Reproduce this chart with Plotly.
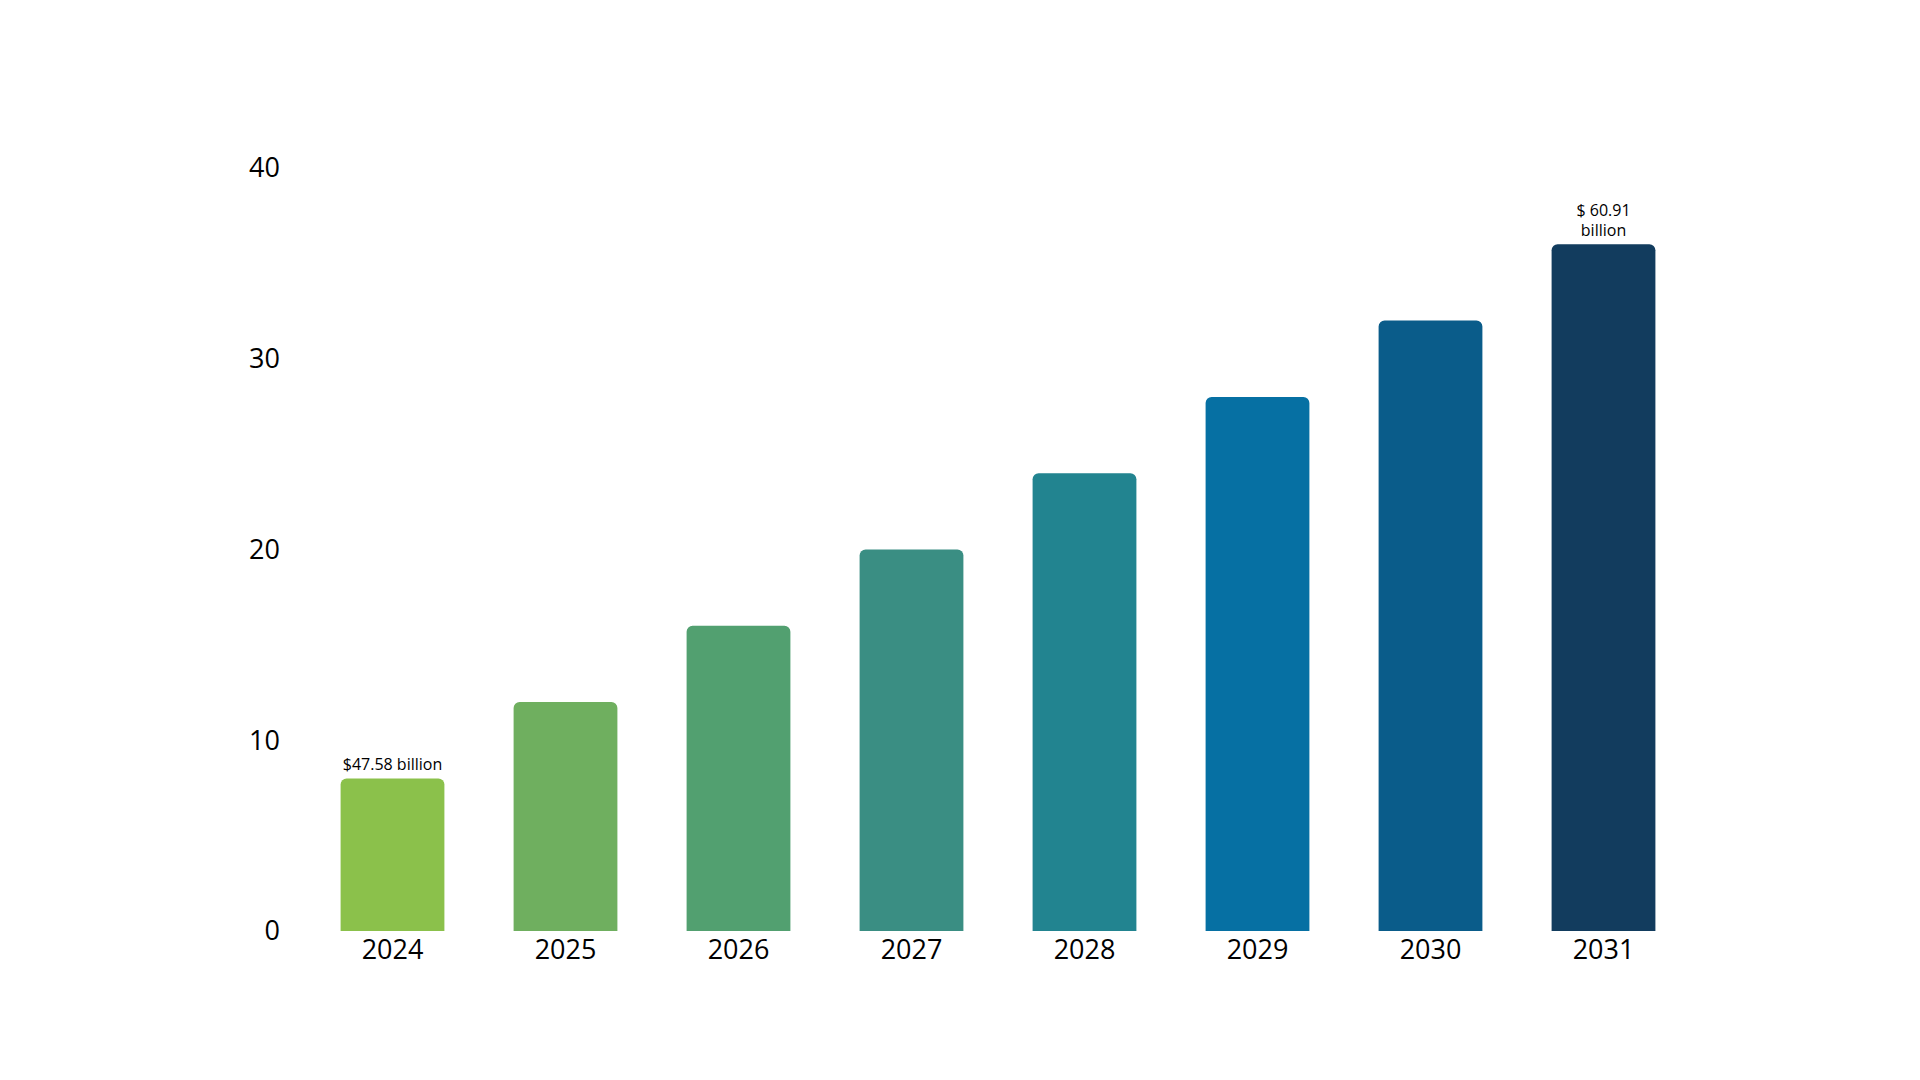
import plotly.graph_objects as go

years = ["2024", "2025", "2026", "2027", "2028", "2029", "2030", "2031"]
values = [8, 12, 16, 20, 24, 28, 32, 36]
colors = ["#8BC14B", "#6FAF5F", "#52A070", "#3A8E83", "#228490", "#0670A3", "#0A5C8A", "#123C5E"]
labels = ["$47.58 billion", "", "", "", "", "", "", "$ 60.91<br>billion"]

fig = go.Figure(go.Bar(
    x=years, y=values, marker_color=colors, marker_line_width=0,
    text=labels, textposition="outside", cliponaxis=False,
    textfont=dict(size=16, color="black"),
))
fig.update_layout(
    width=1920, height=1080, paper_bgcolor="white", plot_bgcolor="white",
    margin=dict(l=298, r=238, t=160, b=157),
    bargap=0.4, barcornerradius=6, showlegend=False,
    font=dict(family="Open Sans, Liberation Sans, sans-serif", color="black"),
    xaxis=dict(showline=False, showgrid=False, ticks="", tickfont=dict(size=27)),
    yaxis=dict(range=[0, 40], dtick=10, showgrid=False, zeroline=False, showline=False,
               tickfont=dict(size=27), ticklabelstandoff=25),
    uniformtext=dict(mode=False),
)
fig.write_html("out.html")
